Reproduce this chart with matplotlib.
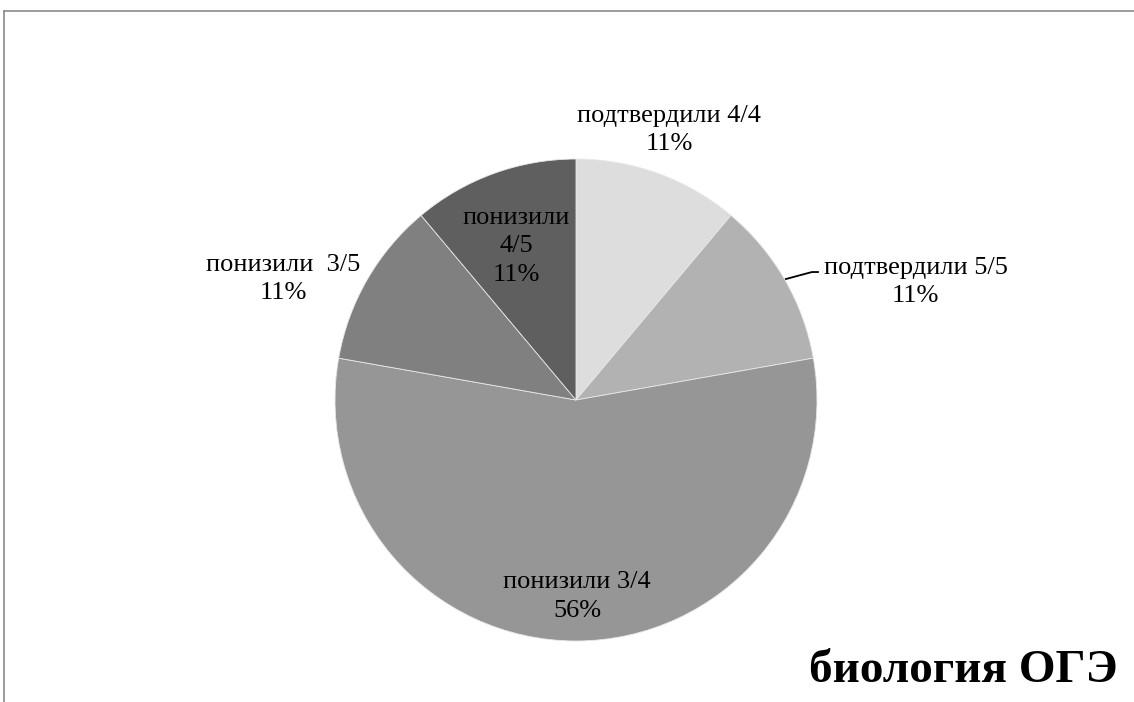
import matplotlib.pyplot as plt
from matplotlib.lines import Line2D

plt.rcParams['font.family'] = ['Liberation Serif', 'DejaVu Serif']

# data: counts of students (9 in total)
labels = ['подтвердили 4/4', 'подтвердили 5/5', 'понизили 3/4', 'понизили  3/5', 'понизили\n4/5']
counts = [1, 1, 5, 1, 1]
colors = ['#dddddd', '#b2b2b2', '#969696', '#808080', '#5f5f5f']

# where each label sits, in units of pie radius
label_pos = [(0.386, 1.120), (1.409, 0.490), (0.004, -0.817), (-1.216, 0.502), (-0.249, 0.637)]

W, H = 1134, 702
fig = plt.figure(figsize=(W / 100, H / 100), dpi=100)

# frame like the exported office chart (top and left edges)
fig.add_artist(Line2D([4 / W, 4 / W], [0, 1 - 11 / H], color='#8a8a8a', lw=1.2))
fig.add_artist(Line2D([4 / W, 1], [1 - 11 / H, 1 - 11 / H], color='#8a8a8a', lw=1.2))

cx, cy, r = 576, 400, 241
ax = fig.add_axes([(cx - r) / W, (H - cy - r) / H, 2 * r / W, 2 * r / H])
wedges, _ = ax.pie(counts, colors=colors, startangle=90, counterclock=False,
                   wedgeprops=dict(edgecolor='#e8e8e8', linewidth=0.6))
ax.set_xlim(-1, 1)
ax.set_ylim(-1, 1)
ax.set_aspect('equal')
ax.axis('off')

total = sum(counts)
for lab, c, (x, y) in zip(labels, counts, label_pos):
    ax.text(x, y, '%s\n%d%%' % (lab, round(100 * c / total)), ha='center', va='center',
            fontsize=19, linespacing=1.4, color='black')

# leader line for "подтвердили 5/5"
ax.plot([0.871, 0.979, 1.004], [0.502, 0.531, 0.531], color='black', lw=1.3, clip_on=False)

fig.text(1118 / W, 1 - 671 / H, 'биология ОГЭ', ha='right', va='center',
         fontsize=34, fontweight='bold')

fig.savefig('out.png', dpi=100, facecolor='white')
